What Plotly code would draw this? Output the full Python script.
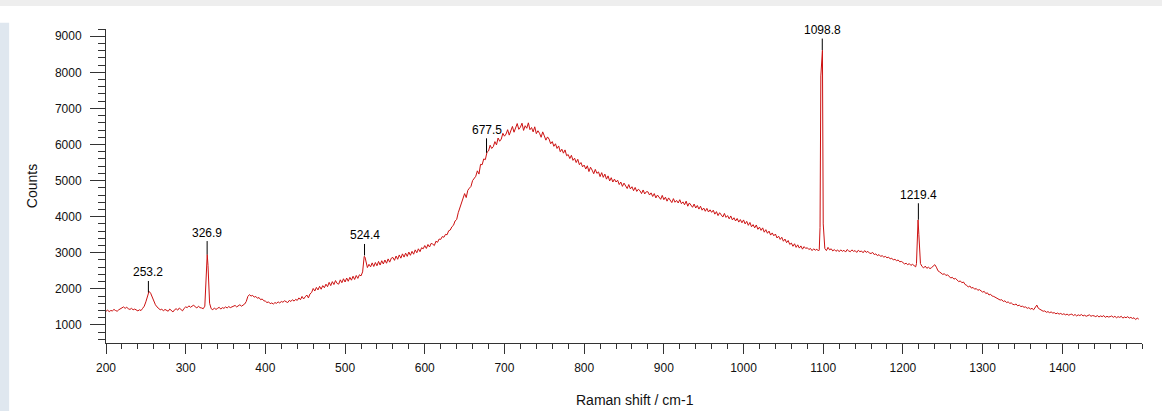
import plotly.graph_objects as go

# ---- data (2 cm-1 grid, 40 cm-1 per row) ----
grid_start, grid_step = 200, 2
grid_rows = [
    [1380, 1410, 1370, 1400, 1390, 1430, 1400, 1380, 1420, 1450, 1470, 1500, 1460, 1490, 1450, 1430, 1460, 1420, 1440, 1410],  # 200
    [1390, 1420, 1400, 1460, 1520, 1640, 1820, 1930, 1880, 1760, 1640, 1560, 1500, 1470, 1420, 1440, 1390, 1430, 1400, 1380],  # 240
    [1440, 1400, 1360, 1420, 1450, 1410, 1470, 1430, 1390, 1460, 1500, 1480, 1530, 1490, 1510, 1550, 1500, 1470, 1520, 1480],  # 280
    [1470, 1450, 1520, 2500, 2650, 1600, 1450, 1420, 1470, 1430, 1460, 1490, 1440, 1480, 1460, 1500, 1470, 1510, 1480, 1500],  # 320
    [1510, 1540, 1500, 1530, 1560, 1520, 1550, 1580, 1650, 1790, 1840, 1800, 1820, 1770, 1790, 1740, 1760, 1700, 1720, 1670],  # 360
    [1660, 1620, 1640, 1590, 1610, 1580, 1620, 1600, 1640, 1610, 1650, 1630, 1670, 1640, 1620, 1680, 1650, 1700, 1660, 1710],  # 400
    [1680, 1750, 1700, 1790, 1720, 1780, 1830, 1750, 1860, 1900, 2010, 1940, 2040, 1970, 2070, 1990, 2090, 2030, 2130, 2060],  # 440
    [2180, 2090, 2200, 2120, 2230, 2150, 2130, 2250, 2170, 2280, 2190, 2300, 2210, 2320, 2240, 2350, 2260, 2370, 2290, 2390],  # 480
    [2360, 2470, 2900, 2740, 2590, 2680, 2610, 2720, 2620, 2730, 2640, 2760, 2660, 2780, 2690, 2800, 2710, 2830, 2740, 2850],  # 520
    [2870, 2790, 2910, 2820, 2940, 2850, 2970, 2880, 2990, 2900, 3020, 2930, 3040, 2960, 3080, 3000, 3110, 3030, 3140, 3110],  # 560
    [3200, 3120, 3230, 3160, 3260, 3240, 3200, 3320, 3290, 3380, 3370, 3450, 3430, 3510, 3500, 3610, 3630, 3720, 3760, 3880],  # 600
    [3920, 4110, 4230, 4410, 4470, 4640, 4530, 4730, 4790, 4840, 5000, 5060, 5120, 5270, 5180, 5450, 5440, 5600, 5580, 5780],  # 640
    [5820, 5980, 5890, 5940, 6080, 5990, 6180, 6090, 6150, 6310, 6230, 6290, 6410, 6260, 6380, 6500, 6340, 6460, 6580, 6420],  # 680
    [6480, 6590, 6390, 6520, 6450, 6600, 6410, 6470, 6350, 6490, 6300, 6380, 6310, 6200, 6350, 6240, 6120, 6210, 6150, 6020],  # 720
    [6080, 5950, 6020, 5890, 5960, 5800, 5870, 5760, 5850, 5690, 5720, 5610, 5700, 5560, 5620, 5500, 5590, 5440, 5500, 5380],  # 760
    [5430, 5320, 5410, 5250, 5370, 5290, 5190, 5310, 5200, 5240, 5110, 5220, 5090, 5180, 5040, 5130, 4990, 5080, 4960, 5040],  # 800
    [4960, 5010, 4890, 4960, 4840, 4930, 4860, 4780, 4890, 4770, 4830, 4720, 4810, 4700, 4760, 4720, 4640, 4740, 4630, 4690],  # 840
    [4690, 4600, 4660, 4560, 4640, 4520, 4600, 4550, 4480, 4590, 4470, 4540, 4430, 4520, 4470, 4390, 4500, 4400, 4450, 4380],  # 880
    [4470, 4360, 4410, 4330, 4430, 4290, 4380, 4320, 4260, 4350, 4240, 4310, 4210, 4290, 4180, 4240, 4150, 4230, 4130, 4190],  # 920
    [4120, 4180, 4070, 4140, 4030, 4110, 4050, 3990, 4090, 3980, 4030, 3940, 4020, 3910, 3970, 3880, 3950, 3850, 3920, 3830],  # 960
    [3910, 3800, 3870, 3760, 3840, 3720, 3780, 3690, 3770, 3650, 3710, 3620, 3690, 3570, 3640, 3540, 3600, 3490, 3550, 3470],  # 1000
    [3520, 3410, 3460, 3370, 3430, 3320, 3380, 3280, 3340, 3230, 3270, 3180, 3250, 3150, 3220, 3130, 3190, 3100, 3170, 3120],  # 1040
    [3140, 3090, 3120, 3060, 3110, 3070, 3100, 3050, 3700, 8400, 3800, 3120, 3060, 3150, 3080, 3110, 3050, 3090, 3040, 3080],  # 1080
    [3030, 3080, 3040, 3070, 3020, 3090, 3050, 3030, 3080, 3040, 3060, 3010, 3070, 3030, 3050, 3000, 3060, 3010, 3040, 2990],  # 1120
    [2980, 3010, 2950, 2970, 2920, 2950, 2900, 2920, 2880, 2900, 2860, 2880, 2830, 2850, 2800, 2820, 2780, 2800, 2750, 2760],  # 1160
    [2730, 2690, 2710, 2670, 2700, 2650, 2680, 2630, 2610, 3300, 3500, 2700, 2620, 2580, 2630, 2570, 2600, 2560, 2590, 2630],  # 1200
    [2670, 2600, 2500, 2470, 2440, 2400, 2420, 2370, 2390, 2330, 2300, 2320, 2270, 2290, 2240, 2200, 2220, 2170, 2190, 2120],  # 1240
    [2100, 2050, 2080, 2020, 2040, 1990, 2010, 1960, 1980, 1930, 1910, 1930, 1870, 1890, 1830, 1850, 1800, 1790, 1760, 1730],  # 1280
    [1720, 1690, 1700, 1650, 1670, 1620, 1640, 1600, 1610, 1570, 1560, 1580, 1530, 1550, 1510, 1520, 1490, 1500, 1460, 1480],  # 1320
    [1440, 1460, 1420, 1470, 1550, 1460, 1430, 1400, 1380, 1390, 1350, 1370, 1340, 1360, 1330, 1340, 1310, 1330, 1300, 1320],  # 1360
    [1290, 1310, 1280, 1300, 1270, 1290, 1300, 1260, 1290, 1250, 1280, 1260, 1290, 1250, 1270, 1240, 1260, 1280, 1240, 1260],  # 1400
    [1250, 1230, 1260, 1220, 1250, 1230, 1260, 1210, 1240, 1220, 1230, 1250, 1210, 1240, 1200, 1230, 1210, 1240, 1190, 1220],  # 1440
    [1200, 1230, 1190, 1210, 1180, 1200, 1150, 1190, 1160],                                                                    # 1480
]
# extra samples on the sharp peaks
peak_shift = [327, 329, 525, 1095, 1097, 1099, 1101, 1217, 1219, 1221]
peak_counts = [2950, 1900, 2880, 3080, 7900, 8610, 3250, 2700, 3910, 3000]

label_shift = [253.2, 326.9, 524.4, 677.5, 1098.8, 1219.4]
label_counts = [1900, 2950, 2925, 5770, 8616, 3915]
label_offset = [-20, -22, -20, -23, -20, -25]

x_ticks = [200, 300, 400, 500, 600, 700, 800, 900, 1000, 1100, 1200, 1300, 1400]
y_ticks = [1000, 2000, 3000, 4000, 5000, 6000, 7000, 8000, 9000]

# ---- assemble the spectrum ----
assert all(len(r) == 20 for r in grid_rows[:-1])
grid_counts = [v for r in grid_rows for v in r]
grid_shift = [grid_start + grid_step * i for i in range(len(grid_counts))]
pairs = sorted(zip(grid_shift + peak_shift, grid_counts + peak_counts))
shift = [p[0] for p in pairs]
counts = [p[1] for p in pairs]

FONT = "Liberation Sans, Arial, sans-serif"

fig = go.Figure()
fig.add_trace(go.Scatter(x=shift, y=counts, mode="lines",
                         line=dict(color="#cc1111", width=1),
                         showlegend=False, hoverinfo="x+y"))

for xs, ys, off in zip(label_shift, label_counts, label_offset):
    fig.add_annotation(x=xs, y=ys, text=f"{xs:.1f}", showarrow=True,
                       arrowhead=0, arrowwidth=1, arrowcolor="#000000",
                       ax=0, ay=off, standoff=0,
                       font=dict(family=FONT, size=12, color="#000000"))

# x-axis title (sits slightly right of the plot centre in the reference)
fig.add_annotation(text="Raman shift / cm-1", xref="paper", yref="paper",
                   x=0.5106, y=-0.1815, xanchor="center", yanchor="middle",
                   showarrow=False,
                   font=dict(family=FONT, size=14, color="#111111"))

# page decorations (top band and left strip of the screenshot)
fig.add_shape(type="rect", xref="paper", yref="paper",
              x0=-0.11, x1=1.02, y0=1.073, y1=1.10,
              fillcolor="#eeeeee", line=dict(width=0), layer="below")
fig.add_shape(type="rect", xref="paper", yref="paper",
              x0=-0.11, x1=-0.0935, y0=-0.25, y1=1.02,
              fillcolor="#dfe7ef", line=dict(width=0), layer="below")

fig.update_layout(
    width=1162, height=411,
    margin=dict(l=106, r=20, t=29, b=68),
    paper_bgcolor="#ffffff", plot_bgcolor="#ffffff",
    font=dict(family=FONT, size=12, color="#000000"),
    xaxis=dict(range=[200, 1500], tickvals=x_ticks,
               ticktext=[str(v) for v in x_ticks],
               showline=True, linecolor="#333333", linewidth=1,
               ticks="outside", ticklen=10, tickwidth=1, tickcolor="#333333",
               ticklabelstandoff=4,
               minor=dict(dtick=20, tick0=200, ticks="outside", ticklen=5,
                          tickwidth=1, tickcolor="#333333"),
               showgrid=False, zeroline=False, mirror=False, automargin=False,
               tickfont=dict(family=FONT, size=12, color="#111111")),
    yaxis=dict(range=[500, 9200], tickvals=y_ticks,
               ticktext=[str(v) for v in y_ticks],
               showline=True, linecolor="#333333", linewidth=1,
               ticks="outside", ticklen=15, tickwidth=1, tickcolor="#333333",
               ticklabelstandoff=6,
               minor=dict(dtick=200, tick0=0, ticks="outside", ticklen=7,
                          tickwidth=1, tickcolor="#333333"),
               showgrid=False, zeroline=False, mirror=False, automargin=False,
               tickfont=dict(family=FONT, size=12, color="#111111"),
               title=dict(text="Counts", standoff=13,
                          font=dict(family=FONT, size=14, color="#111111"))),
)

fig.write_html("out.html", config={"displayModeBar": False},
               post_script="document.body.style.margin='0';document.body.style.padding='0';")
